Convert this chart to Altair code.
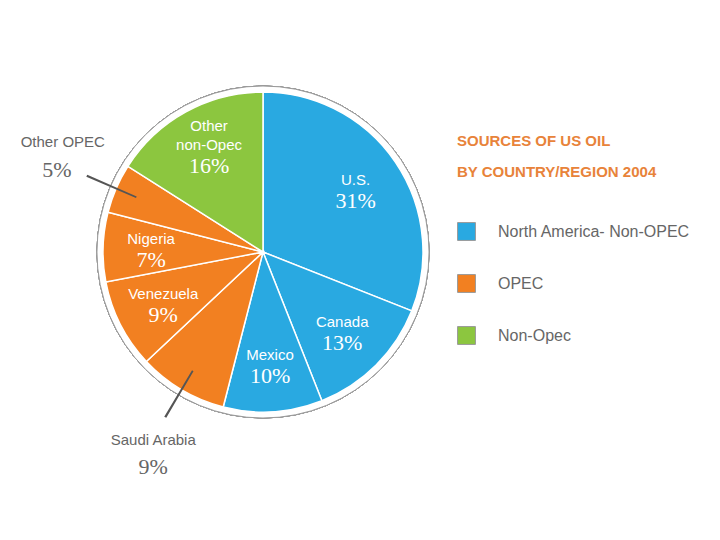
import altair as alt
import pandas as pd

names = ["U.S.", "Canada", "Mexico", "Saudi Arabia", "Venezuela", "Nigeria", "Other OPEC", "Other non-Opec"]
name_top = ["", "", "", "", "", "", "", "Other"]
name_bottom = ["U.S.", "Canada", "Mexico", "", "Venezuela", "Nigeria", "", "non-Opec"]
values = [31, 13, 10, 9, 9, 7, 5, 16]
groups = ["North America- Non-OPEC"] * 3 + ["OPEC"] * 4 + ["Non-Opec"]
group_order = ["North America- Non-OPEC", "OPEC", "Non-Opec"]
group_colors = ["#29a9e1", "#f28021", "#8cc63f"]
outer_labels = ["Saudi Arabia", "Other OPEC"]
title_lines = ["SOURCES OF US OIL", "BY COUNTRY/REGION 2004"]

df = pd.DataFrame({"name": names, "value": values, "group": groups,
                   "top": name_top, "bottom": name_bottom})
df["idx"] = range(len(df))
df["pct"] = [f"{v}%" for v in values]
df["in_pct"] = [p if n not in outer_labels else "" for n, p in zip(names, df["pct"])]
df["opec_name"] = [n if n == "Other OPEC" else "" for n in names]
df["opec_pct"] = [p if n == "Other OPEC" else "" for n, p in zip(names, df["pct"])]
df["sa_name"] = [n if n == "Saudi Arabia" else "" for n in names]
df["sa_pct"] = [p if n == "Saudi Arabia" else "" for n, p in zip(names, df["pct"])]

start = df["value"].cumsum() - df["value"]
mid = start + df["value"] / 2
lead = pd.DataFrame({"name": names, "mid": mid})
lead = lead[lead["name"].isin(outer_labels)].copy()
lead["t1"] = lead["mid"] - 0.1
lead["t2"] = lead["mid"] + 0.1

CX, CY = 255, 244
R = 160
SANS = "Liberation Sans Narrow, Arial Narrow, Liberation Sans, sans-serif"
SERIF = "Liberation Serif, DejaVu Serif, serif"

base = alt.Chart(df)
theta = alt.Theta("value:Q", stack=True, scale=alt.Scale(domain=[0, 100]))
order = alt.Order("idx:Q")
cx = alt.value(CX)
cy = alt.value(CY)

ring = alt.Chart(df).mark_arc(
    radius=R + 6, theta=0, theta2=6.2832, fill="white", stroke="#9a9a9a", strokeWidth=1
).encode(x=cx, y=cy)

pie = base.mark_arc(radius=R, stroke="white", strokeWidth=1.5).encode(
    x=cx, y=cy, theta=theta, order=order,
    color=alt.Color(
        "group:N",
        scale=alt.Scale(domain=group_order, range=group_colors),
        legend=alt.Legend(
            orient="none", legendX=449, legendY=126,
            title=title_lines, titleColor="#e8833a", titleFont=SANS,
            titleFontSize=15, titleFontWeight="bold", titleLineHeight=31,
            titlePadding=42, titleLimit=0, symbolType="square", symbolSize=320,
            symbolStrokeColor="#9a9a9a", symbolStrokeWidth=1,
            labelFont=SANS, labelFontSize=16, labelColor="#666666", labelLimit=0,
            rowPadding=29, labelOffset=22,
        ),
    ),
)

leaders = alt.Chart(lead).mark_arc(radius=R - 22, radius2=R + 32, color="#555555").encode(
    x=cx, y=cy,
    theta=alt.Theta("t1:Q", stack=False, scale=alt.Scale(domain=[0, 100])),
    theta2="t2:Q",
)

in_top = base.mark_text(radius=112, font=SANS, fontSize=15, color="white",
                        baseline="bottom", dy=-20).encode(
    x=cx, y=cy, theta=theta, order=order, text="top:N")
in_name = base.mark_text(radius=112, font=SANS, fontSize=15, color="white",
                         baseline="bottom", dy=-1).encode(
    x=cx, y=cy, theta=theta, order=order, text="bottom:N")
in_pct = base.mark_text(radius=112, font=SERIF, fontSize=22, color="white",
                        baseline="top", dy=2).encode(
    x=cx, y=cy, theta=theta, order=order, text="in_pct:N")

opec_name = base.mark_text(radius=R + 32, font=SANS, fontSize=15, color="#666666",
                           baseline="bottom", dx=-24, dy=-26).encode(
    x=cx, y=cy, theta=theta, order=order, text="opec_name:N")
opec_pct = base.mark_text(radius=R + 32, font=SERIF, fontSize=22, color="#666666",
                          baseline="middle", dx=-30, dy=-6).encode(
    x=cx, y=cy, theta=theta, order=order, text="opec_pct:N")

sa_name = base.mark_text(radius=R + 32, font=SANS, fontSize=15, color="#666666",
                         baseline="top", dx=-12, dy=16).encode(
    x=cx, y=cy, theta=theta, order=order, text="sa_name:N")
sa_pct = base.mark_text(radius=R + 32, font=SERIF, fontSize=22, color="#666666",
                        baseline="top", dx=-12, dy=40).encode(
    x=cx, y=cy, theta=theta, order=order, text="sa_pct:N")

chart = alt.layer(
    ring, pie, leaders, in_top, in_name, in_pct, opec_name, opec_pct, sa_name, sa_pct
).properties(
    width=704, height=524, padding=0, autosize="none", background="white"
).configure_view(strokeWidth=0)

chart.save("out.html", embed_options={"renderer": "svg", "actions": False})
